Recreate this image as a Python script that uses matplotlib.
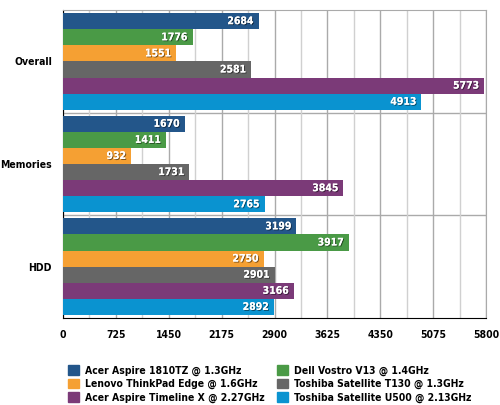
import numpy as np
import matplotlib.pyplot as plt
import matplotlib.patheffects as pe
from matplotlib.patches import Patch

plt.rcParams['font.family'] = ['DejaVu Sans Condensed', 'DejaVu Sans']
plt.rcParams['font.stretch'] = 'condensed'
plt.rcParams['font.weight'] = 'bold'

groups = ['Overall', 'Memories', 'HDD']
laptops = [
    'Acer Aspire 1810TZ @ 1.3GHz',
    'Dell Vostro V13 @ 1.4GHz',
    'Lenovo ThinkPad Edge @ 1.6GHz',
    'Toshiba Satellite T130 @ 1.3GHz',
    'Acer Aspire Timeline X @ 2.27GHz',
    'Toshiba Satellite U500 @ 2.13GHz',
]
acer_1810tz = [2684, 1670, 3199]
dell_v13 = [1776, 1411, 3917]
lenovo_edge = [1551, 932, 2750]
toshiba_t130 = [2581, 1731, 2901]
acer_timeline = [5773, 3845, 3166]
toshiba_u500 = [4913, 2765, 2892]
series = [acer_1810tz, dell_v13, lenovo_edge, toshiba_t130, acer_timeline, toshiba_u500]
colors = ['#23568a', '#4a9a46', '#f5a033', '#666666', '#7b3a78', '#0a93d0']
ticks = [0, 725, 1450, 2175, 2900, 3625, 4350, 5075, 5800]

fig = plt.figure(figsize=(5, 4.05), dpi=100)
ax = fig.add_axes([0.126, 0.215, 0.846, 0.76])

h = 0.157
for j, (vals, col) in enumerate(zip(series, colors)):
    ys = np.arange(len(groups)) + (j - 2.5) * h
    ax.barh(ys, vals, height=h, color=col, zorder=3)
    for y, v in zip(ys, vals):
        ax.text(v - 70, y, str(v), ha='right', va='center', color='white',
                fontsize=7.5, fontweight='bold', zorder=4,
                path_effects=[pe.withSimplePatchShadow(offset=(0.7, -0.7),
                                                       shadow_rgbFace='black', alpha=0.5),
                              pe.Normal()])

ax.set_xlim(0, 5800)
ax.set_ylim(2.5, -0.5)
ax.set_xticks(ticks)
ax.set_xticklabels([str(t) for t in ticks], fontsize=7.5, fontweight='bold')
ax.set_xticks([t + 362.5 for t in ticks[:-1]], minor=True)
ax.set_yticks(range(len(groups)))
ax.set_yticklabels(groups, fontsize=7.5, fontweight='bold')
ax.tick_params(axis='x', length=0, pad=9)
ax.tick_params(axis='y', length=0, pad=8)
ax.tick_params(which='minor', length=0)
ax.grid(axis='x', which='major', color='#aaaaaa', lw=1, zorder=0)
ax.grid(axis='x', which='minor', color='#d0d0d0', lw=1, zorder=0)
for yb in [0.5, 1.5]:
    ax.axhline(yb, color='#aaaaaa', lw=1, zorder=1)
ax.spines['left'].set_color('black')
ax.spines['bottom'].set_color('black')
ax.spines['top'].set_color('#aaaaaa')
ax.spines['right'].set_color('#aaaaaa')

handles = [Patch(color=c) for c in colors]
order = [0, 2, 4, 1, 3, 5]
fig.legend([handles[i] for i in order], [laptops[i] for i in order],
           loc='lower center', bbox_to_anchor=(0.54, -0.018), ncol=2, frameon=False,
           fontsize=7.5, handlelength=1.0, handleheight=1.0, columnspacing=1.2,
           labelspacing=0.3, handletextpad=0.6)

fig.savefig('out.png', dpi=100)
